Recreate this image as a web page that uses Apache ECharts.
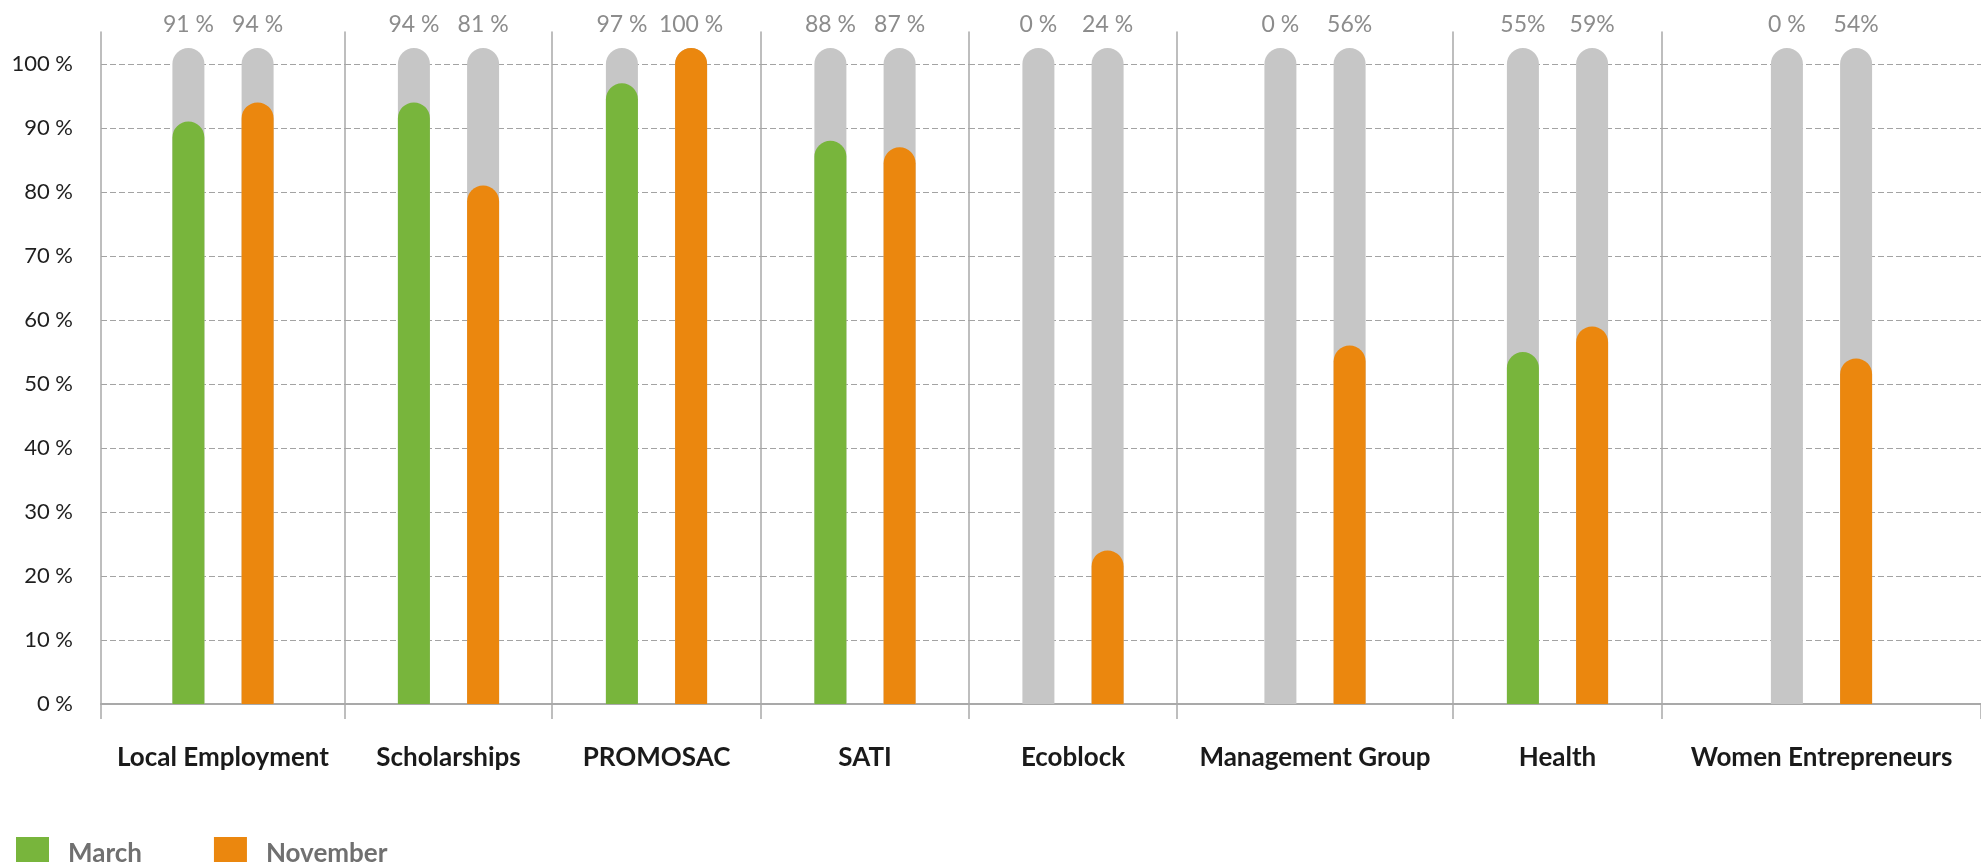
<!DOCTYPE html>
<html>
<head>
<meta charset="utf-8">
<script src="https://cdn.jsdelivr.net/npm/echarts@6/dist/echarts.min.js"></script>
<style>
  html, body { margin: 0; padding: 0; background: #ffffff; }
  #chart { width: 1981px; height: 862px; }
</style>
</head>
<body>
<div id="chart"></div>
<script>
// Programme participation, March vs November (percent)
const categories = ['Local Employment', 'Scholarships', 'PROMOSAC', 'SATI', 'Ecoblock', 'Management Group', 'Health', 'Women Entrepreneurs'];
const marchValues = [91, 94, 97, 88, 0, 0, 55, 0];
const novemberValues = [94, 81, 100, 87, 24, 56, 59, 54];
const marchLabels = ['91 %', '94 %', '97 %', '88 %', '0 %', '0 %', '55%', '0 %'];
const novemberLabels = ['94 %', '81 %', '100 %', '87 %', '24 %', '56%', '59%', '54%'];
const seriesNames = ['March', 'November'];
const tickSuffix = ' %';
const fullScale = 100;

// Panel layout: each programme sits in its own column between divider lines
const panelEdges = [101, 345, 552, 761, 969, 1177, 1453, 1662, 1981];
const GREEN = '#78b53c';
const ORANGE = '#eb870e';
const TRACK = '#c6c6c6';
const AXIS_GREY = '#a9a9a9';
const BAR_W = 32;
const R = 16;
const PAIR_OFFSET = 34.6;
const FONT = 'Lato';

// Rounded pill from the baseline up to topY (the rounded cap included)
function pill(cx, topY, baseY, fill) {
  return {
    type: 'rect',
    shape: { x: cx - BAR_W / 2, y: topY, width: BAR_W, height: baseY - topY, r: [R, R, 0, 0] },
    style: { fill: fill }
  };
}

// The grey track runs to 100 % with its cap sitting above the 100 % line
function trackRenderer(params, api) {
  const base = api.coord([0, 0]);
  const full = api.coord([0, api.value(1)]);
  return {
    type: 'group',
    children: [
      pill(base[0] - PAIR_OFFSET, full[1] - R, base[1], TRACK),
      pill(base[0] + PAIR_OFFSET, full[1] - R, base[1], TRACK)
    ]
  };
}

// Value bars end at their value; a full bar takes the track's shape
function barRenderer(offset, color, text) {
  return function (params, api) {
    const v = api.value(1);
    const base = api.coord([0, 0]);
    const top = api.coord([0, v]);
    const full = api.coord([0, fullScale]);
    const cx = base[0] + offset;
    const lift = v >= fullScale ? R : 0;
    const children = [];
    if (v > 0) children.push(pill(cx, top[1] - lift, base[1], color));
    children.push({
      type: 'text',
      style: {
        text: text, x: cx, y: full[1] - R - 23,
        align: 'center', verticalAlign: 'middle',
        fill: '#8c8c8c', fontSize: 23, fontFamily: FONT
      }
    });
    return { type: 'group', children: children };
  };
}

const grids = [], xAxes = [], yAxes = [], series = [];
categories.forEach(function (cat, i) {
  grids.push({
    left: panelEdges[i], width: panelEdges[i + 1] - panelEdges[i],
    top: 32, bottom: 158, containLabel: false, outerBoundsMode: 'none'
  });
  xAxes.push({
    gridIndex: i, type: 'category', data: [cat],
    axisLine: { show: true, lineStyle: { color: AXIS_GREY, width: 2 } },
    axisTick: { show: true, length: 15, lineStyle: { color: AXIS_GREY, width: 1.5 } },
    axisLabel: { margin: 41, fontSize: 26, fontWeight: 'bold', color: '#1a1a1a', fontFamily: FONT },
    splitLine: { show: false }
  });
  yAxes.push({
    gridIndex: i, type: 'value', min: 0, max: 105, interval: 10,
    axisLine: { show: true, lineStyle: { color: AXIS_GREY, width: 1.5 } },
    axisTick: { show: false },
    splitLine: {
      show: true, showMinLine: false, showMaxLine: false,
      lineStyle: { type: [6, 3], color: '#a3a3a3', width: 1.2 }
    },
    axisLabel: {
      show: i === 0, showMaxLabel: false, margin: 28,
      fontSize: 22, color: '#1f1f1f', fontFamily: FONT,
      padding: [0, 0, 15, 0],
      formatter: function (v) { return v > fullScale ? '' : v + tickSuffix; }
    }
  });
  series.push({
    type: 'custom', name: 'track', xAxisIndex: i, yAxisIndex: i,
    renderItem: trackRenderer, data: [[0, fullScale]], silent: true
  });
  series.push({
    type: 'custom', name: seriesNames[0], xAxisIndex: i, yAxisIndex: i,
    itemStyle: { color: GREEN },
    renderItem: barRenderer(-PAIR_OFFSET, GREEN, marchLabels[i]),
    data: [[0, marchValues[i]]]
  });
  series.push({
    type: 'custom', name: seriesNames[1], xAxisIndex: i, yAxisIndex: i,
    itemStyle: { color: ORANGE },
    renderItem: barRenderer(PAIR_OFFSET, ORANGE, novemberLabels[i]),
    data: [[0, novemberValues[i]]]
  });
});

const chart = echarts.init(document.getElementById('chart'), null, { renderer: 'canvas' });
chart.setOption({
  backgroundColor: '#ffffff',
  animation: false,
  legend: {
    left: 11, top: 832, orient: 'horizontal',
    icon: 'rect', itemWidth: 33, itemHeight: 33, itemGap: 72,
    data: [
      { name: seriesNames[0], itemStyle: { color: GREEN } },
      { name: seriesNames[1], itemStyle: { color: ORANGE } }
    ],
    textStyle: { fontSize: 26, fontWeight: 'bold', color: '#707070', fontFamily: FONT, padding: [0, 0, 0, 14] }
  },
  grid: grids,
  xAxis: xAxes,
  yAxis: yAxes,
  series: series
});
</script>
</body>
</html>
